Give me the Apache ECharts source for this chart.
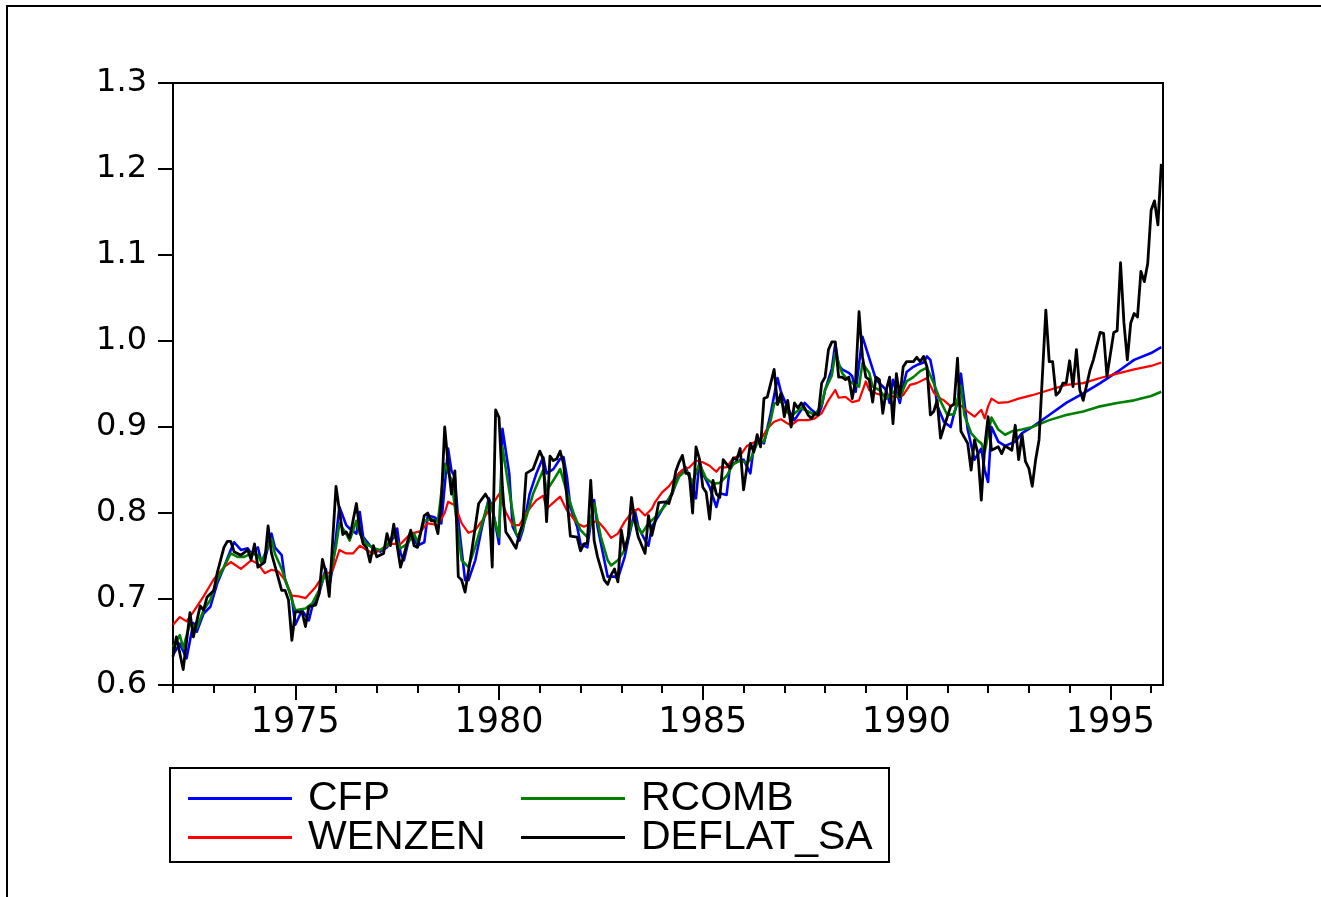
<!DOCTYPE html>
<html>
<head>
<meta charset="utf-8">
<script src="https://cdn.jsdelivr.net/npm/echarts@6/dist/echarts.min.js"></script>
<style>
html,body{margin:0;padding:0;background:#fff;}
#chart{width:1321px;height:897px;}
</style>
</head>
<body>
<div id="chart"></div>
<script>
// Monthly observations, index m = months since 1972M01 : value
const START_YEAR = 1972;
const LAST_MONTH = 291.5;
const LABEL_YEARS = [1975, 1980, 1985, 1990, 1995];

const CFP = [[0,0.635],[2,0.648],[4,0.631],[6,0.672],[7,0.662],[9,0.683],[11,0.691],[13,0.718],[15,0.737],[17,0.757],[18,0.766],[20,0.757],[22,0.759],[23,0.753],[25,0.76],[26,0.743],[27,0.745],[29,0.776],[30,0.76],[32,0.751],[33,0.722],[35,0.701],[36,0.67],[38,0.687],[40,0.675],[41,0.691],[43,0.706],[45,0.735],[46,0.714],[47,0.737],[49,0.807],[51,0.786],[52,0.782],[54,0.776],[55,0.801],[56,0.772],[58,0.762],[59,0.759],[61,0.755],[63,0.76],[65,0.772],[66,0.782],[67,0.753],[68,0.745],[70,0.778],[72,0.762],[74,0.766],[75,0.797],[77,0.795],[79,0.788],[81,0.875],[82,0.849],[83,0.842],[84,0.791],[86,0.722],[87,0.722],[89,0.745],[91,0.784],[93,0.817],[94,0.807],[96,0.764],[97,0.898],[99,0.846],[100,0.784],[102,0.768],[103,0.78],[105,0.822],[107,0.846],[109,0.865],[110,0.846],[112,0.851],[114,0.863],[115,0.865],[116,0.842],[117,0.807],[119,0.784],[120,0.764],[122,0.76],[124,0.815],[125,0.784],[127,0.745],[128,0.726],[130,0.726],[131,0.724],[133,0.749],[134,0.768],[136,0.803],[137,0.784],[139,0.768],[140,0.762],[141,0.784],[143,0.797],[145,0.811],[147,0.822],[149,0.846],[151,0.853],[152,0.842],[154,0.817],[155,0.861],[156,0.846],[158,0.83],[160,0.807],[161,0.823],[163,0.821],[164,0.854],[166,0.86],[168,0.862],[170,0.846],[171,0.877],[172,0.885],[174,0.881],[176,0.916],[178,0.957],[179,0.941],[181,0.922],[183,0.908],[185,0.92],[186,0.928],[188,0.92],[190,0.914],[191,0.924],[192,0.943],[194,0.968],[195,0.997],[196,0.972],[197,0.967],[199,0.963],[200,0.959],[201,0.941],[203,1.005],[205,0.98],[207,0.955],[208,0.951],[210,0.943],[211,0.928],[212,0.955],[214,0.928],[215,0.947],[216,0.964],[218,0.97],[219,0.972],[221,0.975],[222,0.982],[223,0.978],[224,0.958],[225,0.925],[227,0.906],[229,0.9],[230,0.916],[231,0.928],[232,0.962],[234,0.897],[236,0.862],[238,0.875],[239,0.85],[240,0.836],[241,0.9],[243,0.883],[245,0.878],[248,0.883],[250,0.893],[253,0.9],[258,0.914],[263,0.928],[268,0.939],[273,0.951],[278,0.964],[283,0.978],[288,0.986],[291,0.993]];

const WENZEN = [[0,0.67],[2,0.679],[4,0.674],[6,0.685],[9,0.703],[12,0.723],[15,0.737],[17,0.743],[20,0.735],[23,0.745],[25,0.741],[27,0.73],[29,0.734],[31,0.732],[33,0.722],[35,0.704],[37,0.703],[39,0.701],[42,0.714],[44,0.726],[47,0.733],[49,0.757],[51,0.753],[53,0.753],[55,0.762],[57,0.757],[59,0.753],[61,0.757],[64,0.764],[67,0.764],[70,0.776],[73,0.779],[75,0.788],[78,0.786],[80,0.8],[81,0.813],[83,0.809],[85,0.788],[87,0.777],[89,0.78],[91,0.791],[93,0.803],[96,0.822],[98,0.801],[100,0.786],[102,0.786],[104,0.8],[107,0.815],[109,0.82],[110,0.805],[112,0.812],[114,0.819],[116,0.803],[119,0.788],[121,0.784],[123,0.788],[125,0.791],[127,0.782],[129,0.771],[131,0.776],[133,0.79],[135,0.8],[137,0.805],[139,0.797],[141,0.805],[142,0.813],[144,0.824],[146,0.831],[148,0.842],[150,0.85],[152,0.853],[154,0.861],[156,0.859],[158,0.855],[160,0.848],[161,0.853],[163,0.853],[165,0.864],[167,0.867],[169,0.878],[171,0.882],[173,0.885],[175,0.898],[177,0.906],[179,0.909],[181,0.904],[182,0.902],[184,0.908],[187,0.908],[189,0.91],[191,0.916],[193,0.931],[195,0.943],[196,0.934],[198,0.935],[200,0.929],[202,0.931],[204,0.953],[205,0.943],[207,0.939],[209,0.937],[213,0.935],[215,0.937],[217,0.949],[219,0.951],[221,0.955],[222,0.957],[224,0.94],[226,0.933],[227,0.931],[229,0.924],[231,0.928],[234,0.918],[236,0.912],[238,0.92],[239,0.91],[240,0.924],[241,0.933],[243,0.928],[246,0.929],[249,0.933],[253,0.937],[258,0.943],[263,0.949],[268,0.951],[273,0.957],[278,0.962],[283,0.967],[288,0.971],[291,0.975]];

const RCOMB = [[0,0.644],[2,0.658],[3,0.643],[5,0.672],[7,0.666],[9,0.687],[11,0.699],[13,0.722],[15,0.737],[17,0.753],[19,0.749],[21,0.749],[23,0.753],[25,0.751],[26,0.743],[29,0.77],[30,0.753],[32,0.735],[34,0.712],[35,0.699],[36,0.687],[39,0.689],[41,0.695],[43,0.71],[45,0.731],[46,0.722],[48,0.761],[49,0.788],[51,0.776],[52,0.768],[54,0.791],[55,0.776],[57,0.764],[59,0.759],[61,0.757],[63,0.762],[65,0.776],[67,0.759],[69,0.764],[71,0.776],[72,0.766],[74,0.791],[76,0.793],[78,0.79],[80,0.857],[82,0.838],[83,0.807],[85,0.745],[87,0.737],[89,0.761],[91,0.788],[93,0.815],[94,0.803],[96,0.772],[97,0.877],[99,0.826],[101,0.776],[102,0.772],[104,0.795],[106,0.822],[109,0.85],[110,0.826],[112,0.838],[114,0.851],[116,0.824],[118,0.799],[120,0.78],[122,0.772],[124,0.811],[126,0.772],[128,0.745],[129,0.739],[131,0.745],[133,0.757],[135,0.788],[136,0.791],[138,0.776],[140,0.788],[142,0.795],[145,0.809],[147,0.824],[149,0.842],[151,0.85],[153,0.836],[155,0.857],[157,0.84],[159,0.834],[161,0.835],[163,0.843],[165,0.857],[167,0.861],[169,0.858],[170,0.862],[172,0.881],[174,0.883],[176,0.908],[177,0.927],[179,0.93],[180,0.922],[182,0.912],[183,0.916],[185,0.922],[187,0.918],[189,0.914],[191,0.926],[192,0.943],[194,0.96],[195,0.986],[197,0.963],[198,0.958],[200,0.951],[202,0.947],[203,0.974],[205,0.963],[206,0.947],[208,0.943],[210,0.933],[212,0.941],[214,0.934],[216,0.953],[218,0.958],[220,0.965],[222,0.969],[224,0.951],[226,0.93],[228,0.914],[230,0.915],[232,0.948],[233,0.914],[235,0.893],[237,0.884],[238,0.881],[239,0.871],[241,0.911],[243,0.897],[245,0.891],[247,0.895],[250,0.897],[253,0.9],[258,0.908],[263,0.914],[268,0.918],[273,0.924],[278,0.928],[283,0.931],[288,0.936],[291,0.941]];

const DEFLAT_SA = [[0,0.633],[1,0.656],[3,0.618],[5,0.684],[6,0.656],[8,0.692],[9,0.687],[10,0.702],[12,0.71],[13,0.73],[15,0.76],[16,0.767],[17,0.767],[18,0.755],[20,0.751],[22,0.757],[23,0.746],[24,0.764],[25,0.737],[27,0.743],[28,0.785],[29,0.753],[32,0.71],[33,0.71],[34,0.699],[35,0.652],[36,0.685],[38,0.685],[39,0.668],[40,0.691],[42,0.693],[43,0.706],[44,0.746],[45,0.731],[46,0.703],[48,0.831],[50,0.775],[51,0.778],[52,0.771],[54,0.811],[55,0.78],[56,0.764],[57,0.76],[58,0.743],[59,0.762],[60,0.749],[62,0.753],[63,0.776],[64,0.762],[65,0.787],[67,0.737],[70,0.78],[71,0.762],[72,0.76],[74,0.797],[75,0.8],[76,0.791],[77,0.791],[78,0.776],[79,0.813],[80,0.9],[81,0.857],[82,0.822],[83,0.849],[84,0.726],[85,0.722],[86,0.708],[88,0.757],[90,0.811],[92,0.822],[93,0.815],[94,0.737],[95,0.92],[96,0.911],[97,0.83],[98,0.778],[99,0.772],[101,0.759],[102,0.776],[103,0.788],[104,0.846],[106,0.851],[108,0.872],[109,0.863],[110,0.79],[111,0.866],[112,0.861],[113,0.863],[114,0.872],[115,0.857],[116,0.817],[117,0.773],[119,0.772],[120,0.756],[121,0.764],[122,0.765],[123,0.838],[124,0.768],[125,0.749],[127,0.722],[128,0.717],[129,0.728],[130,0.735],[131,0.72],[132,0.78],[133,0.757],[134,0.772],[135,0.818],[136,0.79],[137,0.772],[139,0.753],[140,0.797],[141,0.774],[142,0.791],[143,0.812],[145,0.813],[146,0.811],[147,0.824],[148,0.848],[149,0.859],[150,0.867],[151,0.846],[152,0.846],[153,0.8],[154,0.877],[155,0.863],[156,0.83],[157,0.824],[158,0.793],[159,0.838],[160,0.822],[161,0.818],[162,0.862],[164,0.852],[165,0.864],[166,0.862],[167,0.875],[168,0.827],[170,0.881],[171,0.871],[172,0.891],[173,0.877],[174,0.933],[175,0.935],[177,0.967],[178,0.926],[179,0.939],[180,0.912],[181,0.931],[182,0.9],[183,0.928],[184,0.922],[185,0.928],[186,0.922],[187,0.914],[188,0.91],[189,0.916],[190,0.914],[191,0.951],[192,0.958],[193,0.99],[194,0.999],[195,0.999],[196,0.958],[197,0.958],[198,0.955],[199,0.958],[200,0.933],[201,0.955],[202,1.034],[203,0.982],[204,0.958],[205,0.955],[206,0.929],[207,0.958],[208,0.955],[209,0.916],[210,0.943],[211,0.958],[212,0.904],[213,0.962],[214,0.935],[215,0.97],[216,0.976],[218,0.976],[219,0.981],[220,0.976],[221,0.982],[222,0.97],[223,0.914],[224,0.918],[225,0.931],[226,0.887],[227,0.9],[229,0.924],[230,0.927],[231,0.98],[232,0.895],[234,0.881],[235,0.85],[236,0.885],[237,0.869],[238,0.815],[239,0.877],[240,0.912],[241,0.873],[243,0.877],[244,0.869],[245,0.878],[247,0.873],[248,0.902],[249,0.862],[250,0.891],[251,0.86],[252,0.852],[253,0.831],[254,0.862],[255,0.885],[257,1.036],[258,0.976],[259,0.976],[260,0.937],[261,0.941],[262,0.951],[263,0.951],[264,0.977],[265,0.947],[266,0.99],[267,0.943],[268,0.931],[270,0.966],[271,0.978],[273,1.01],[274,1.009],[275,0.959],[277,1.01],[278,1.012],[279,1.091],[280,1.021],[281,0.978],[282,1.021],[283,1.032],[284,1.028],[285,1.081],[286,1.069],[287,1.09],[288,1.152],[289,1.163],[290,1.135],[291,1.206]];

const yearTicks = [];
for (let m = 0; m <= LAST_MONTH; m += 12) yearTicks.push(m);
const labelTicks = LABEL_YEARS.map(y => (y - START_YEAR) * 12);

const chart = echarts.init(document.getElementById('chart'), null, {renderer: 'canvas'});

function lineSeries(name, data, color, width) {
  return {
    name: name, type: 'line', data: data, showSymbol: false, symbol: 'none',
    lineStyle: {color: color, width: width, join: 'round'}, itemStyle: {color: color},
    emphasis: {disabled: true}, animation: false, z: 2
  };
}

const legendText = {fontFamily: 'Liberation Sans, Arial, sans-serif', fontSize: 41, color: '#000', padding: [0, 0, 0, 11], lineHeight: 36};

chart.setOption({
  backgroundColor: '#fff',
  animation: false,
  grid: {left: 173, top: 83, width: 990, height: 602, show: true, borderColor: '#000', borderWidth: 2, backgroundColor: 'transparent'},
  xAxis: [{
    type: 'value', min: 0, max: LAST_MONTH, interval: 12,
    axisLine: {show: true, onZero: false, lineStyle: {color: '#000', width: 2}},
    axisTick: {show: true, customValues: yearTicks, length: 8, lineStyle: {color: '#000', width: 2}},
    axisLabel: {show: true, customValues: labelTicks, margin: 20, color: '#000', fontFamily: 'DejaVu Sans', fontSize: 35,
      formatter: v => { const y = START_YEAR + Math.round(v / 12); return LABEL_YEARS.indexOf(y) >= 0 ? String(y) : ''; }},
    splitLine: {show: false}
  }, {
    type: 'value', min: 0, max: LAST_MONTH, position: 'bottom', offset: 0,
    axisLine: {show: false},
    axisTick: {show: true, customValues: labelTicks, length: 15, lineStyle: {color: '#000', width: 2}},
    axisLabel: {show: false},
    splitLine: {show: false}
  }],
  yAxis: {
    type: 'value', min: 0.6, max: 1.3, interval: 0.1,
    axisLine: {show: true, onZero: false, lineStyle: {color: '#000', width: 2}},
    axisTick: {show: true, length: 15, lineStyle: {color: '#000', width: 2}},
    axisLabel: {margin: 26, color: '#000', fontFamily: 'DejaVu Sans', fontSize: 32, padding: [0, 0, 8, 0],
      formatter: v => v.toFixed(1)},
    splitLine: {show: false}
  },
  legend: [{
    data: ['CFP', 'WENZEN'], orient: 'vertical', left: 188, top: 778,
    itemWidth: 104, itemHeight: 3, itemGap: -2, icon: 'rect', padding: 0,
    textStyle: legendText, selectedMode: false
  }, {
    data: ['RCOMB', 'DEFLAT_SA'], orient: 'vertical', left: 521, top: 778,
    itemWidth: 104, itemHeight: 3, itemGap: -2, icon: 'rect', padding: 0,
    textStyle: legendText, selectedMode: false
  }],
  graphic: [
    {type: 'rect', shape: {x: 7, y: 6, width: 1340, height: 1000}, style: {fill: 'none', stroke: '#000', lineWidth: 2}, silent: true},
    {type: 'rect', shape: {x: 170, y: 768, width: 719, height: 94}, style: {fill: 'none', stroke: '#000', lineWidth: 2}, silent: true}
  ],
  series: [
    lineSeries('CFP', CFP, '#0000ff', 2.6),
    lineSeries('WENZEN', WENZEN, '#ff0000', 2.2),
    lineSeries('RCOMB', RCOMB, '#008000', 2.6),
    lineSeries('DEFLAT_SA', DEFLAT_SA, '#000000', 2.8)
  ]
});
</script>
</body>
</html>
